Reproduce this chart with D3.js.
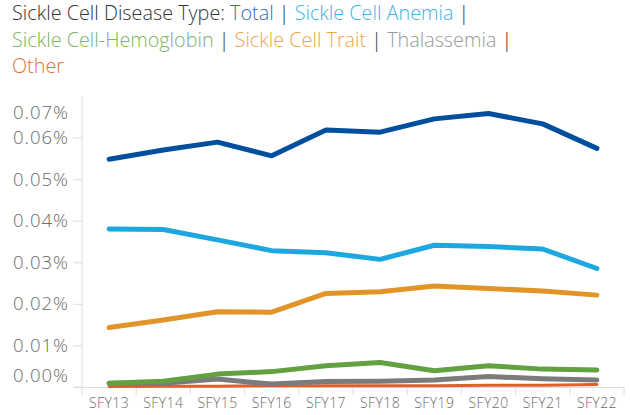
<!DOCTYPE html>
<html><head><meta charset="utf-8">
<script src="https://cdn.jsdelivr.net/npm/d3@7"></script>
<style>body{margin:0;background:#fff;}svg{display:block;font-family:"Open Sans",sans-serif;}</style>
</head><body>
<svg id="c" width="630" height="415"></svg>
<script>
const categories = ["SFY13","SFY14","SFY15","SFY16","SFY17","SFY18","SFY19","SFY20","SFY21","SFY22"];
const total       = [0.0548,0.0570,0.0589,0.0556,0.0618,0.0613,0.0645,0.0658,0.0633,0.0574];
const anemia      = [0.0380,0.0379,0.0354,0.0328,0.0323,0.0307,0.0341,0.0338,0.0332,0.0285];
const trait       = [0.0143,0.0161,0.0181,0.0180,0.0225,0.0229,0.0243,0.0237,0.0231,0.0221];
const hemoglobin  = [0.0009,0.0014,0.0031,0.0037,0.0051,0.0059,0.0039,0.0051,0.0043,0.0041];
const thalassemia = [0.0009,0.0009,0.0019,0.0007,0.0013,0.0014,0.0017,0.0025,0.0020,0.0017];
const other       = [0.0001,0.0002,0.0002,0.0003,0.0003,0.0003,0.0003,0.0004,0.0004,0.0006];
const yTicks = [0,0.01,0.02,0.03,0.04,0.05,0.06,0.07];

const series = [
  {name:"Total", values:total, color:"#004F9E", w:5},
  {name:"Sickle Cell Anemia", values:anemia, color:"#1CA7E0", w:5},
  {name:"Sickle Cell Trait", values:trait, color:"#E39429", w:5},
  {name:"Other", values:other, color:"#E0602C", w:3},
  {name:"Thalassemia", values:thalassemia, color:"#7B7B7B", w:5},
  {name:"Sickle Cell-Hemoglobin", values:hemoglobin, color:"#62A040", w:5}
];

const svg = d3.select("#c");
const x = d3.scaleBand().domain(categories).range([82,624]);
const y = d3.scaleLinear().domain([0,0.07]).range([387,96]);
const axisColor = "#dcdcdc";

// title
const title = svg.append("text").attr("font-size",19.8).attr("font-weight",300).attr("fill","#333");
const parts = [
  [[ "Sickle Cell Disease Type: ","#333"],["Total","#2F6DB5"],[" | ","#333"],["Sickle Cell Anemia","#3DB2E8"],[" |","#333"]],
  [["Sickle Cell-Hemoglobin","#7DB35F"],[" | ","#333"],["Sickle Cell Trait","#F0A54B"],[" | ","#333"],["Thalassemia","#9A9A9A"],[" |","#333"]],
  [["Other","#E2703F"]]
];
parts.forEach((line,i)=>{
  line.forEach((p,j)=>{
    const t = title.append("tspan").attr("fill",p[1]).text(p[0]);
    if(j===0) t.attr("x",12).attr("y",20+i*26.5);
  });
});

// y axis
const ya = svg.append("g").attr("transform","translate(82,0)")
  .call(d3.axisLeft(y).tickValues(yTicks).tickSize(9).tickPadding(4).tickFormat(d=>d3.format(".2f")(d)+"%"));
ya.select(".domain").attr("stroke",axisColor).attr("d","M0,96V387");
ya.selectAll(".tick line").attr("stroke",axisColor);
ya.selectAll(".tick").filter(d=>d===0.07).select("line").remove();
ya.selectAll(".tick text").attr("font-size",18.5).attr("font-weight",300).attr("letter-spacing","1px")
  .attr("fill","#6b6b6b").attr("x",-13)
  .attr("font-family","'Open Sans',sans-serif")
  .attr("dy",d=> d===0 ? "-0.32em" : d===0.07 ? "1.22em" : "0.32em");

// x axis
const xa = svg.append("g").attr("transform","translate(0,387)")
  .call(d3.axisBottom(x).tickSize(0).tickPadding(11));
xa.select(".domain").attr("stroke",axisColor);
xa.selectAll(".tick text").attr("font-size",14).attr("font-weight",300).attr("letter-spacing","0.4px")
  .attr("fill","#6b6b6b").attr("font-family","'Open Sans',sans-serif");
// boundary ticks
svg.append("g").selectAll("line").data(d3.range(categories.length+1)).join("line")
  .attr("x1",i=>x.range()[0]+i*x.step()).attr("x2",i=>x.range()[0]+i*x.step())
  .attr("y1",387).attr("y2",395).attr("stroke",axisColor);
svg.append("line").attr("x1",73).attr("x2",82).attr("y1",387).attr("y2",387).attr("stroke",axisColor);

// lines
const line = d3.line().x((d,i)=>x(categories[i])+x.bandwidth()/2).y(d=>y(d*100));
svg.append("g").selectAll("path").data(series).join("path")
  .attr("d",s=>line(s.values.map(v=>v/100)))
  .attr("fill","none").attr("stroke",s=>s.color).attr("stroke-width",s=>s.w)
  .attr("stroke-linecap","round").attr("stroke-linejoin","round");
</script>
</body></html>
